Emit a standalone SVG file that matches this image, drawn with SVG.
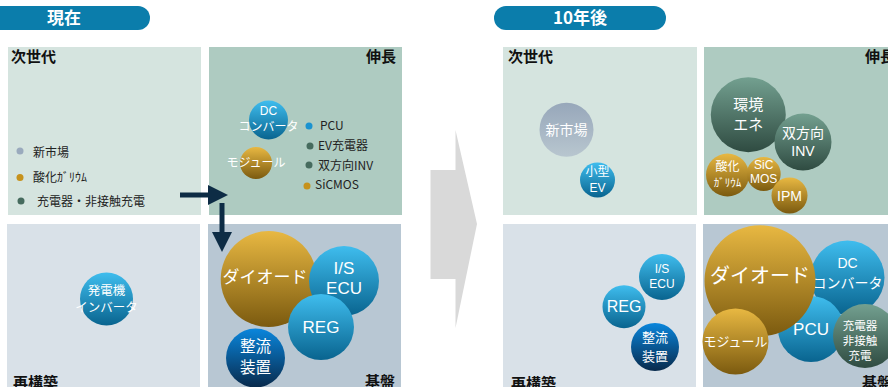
<svg xmlns="http://www.w3.org/2000/svg" width="888" height="387" viewBox="0 0 888 387">
<defs>
<linearGradient id="gBlue" x1="0" y1="0" x2="0" y2="1"><stop offset="0" stop-color="#3fbdee"/><stop offset="1" stop-color="#09648f"/></linearGradient>
<linearGradient id="gGold" x1="0" y1="0" x2="0" y2="1"><stop offset="0" stop-color="#e8b842"/><stop offset="1" stop-color="#7b5a0f"/></linearGradient>
<linearGradient id="gGreen" x1="0" y1="0" x2="0" y2="1"><stop offset="0" stop-color="#73a090"/><stop offset="1" stop-color="#2f4b41"/></linearGradient>
<linearGradient id="gNavy" x1="0" y1="0" x2="0" y2="1"><stop offset="0" stop-color="#0a86dc"/><stop offset="1" stop-color="#082a4c"/></linearGradient>
<linearGradient id="gGray" x1="0" y1="0" x2="0" y2="1"><stop offset="0" stop-color="#97a7ba"/><stop offset="1" stop-color="#b8c6cf"/></linearGradient>
<marker id="ah" markerWidth="4" markerHeight="4" refX="2" refY="2" orient="auto" markerUnits="strokeWidth"><path d="M0,0 L4,2 L0,4 z" fill="#0d2c45"/></marker>
</defs>
<style>
.q{font-family:"Noto Sans CJK JP",sans-serif;font-weight:bold;font-size:15px;fill:#111}
.b{font-family:"Noto Sans CJK JP","Liberation Sans",sans-serif;fill:#fff;text-anchor:middle}
.bl{font-family:"Liberation Sans","Noto Sans CJK JP",sans-serif;fill:#fff;text-anchor:middle}
.lg{font-family:"Noto Sans CJK JP","Liberation Sans",sans-serif;font-size:12px;fill:#222}
.pill{fill:#0b7dab}
.pt{font-family:"Noto Sans CJK JP",sans-serif;font-weight:bold;font-size:17px;fill:#fff;text-anchor:middle}
</style>
<rect width="888" height="387" fill="#fff"/>

<!-- headers -->
<g id="hdr-now"><path class="pill" d="M0,6 H138 A12,12 0 0 1 138,30 H0 z"/><text class="pt" x="64" y="24">現在</text></g>
<g id="hdr-10y"><rect class="pill" x="494" y="6" width="172" height="24" rx="12"/><text class="pt" x="580" y="24">10年後</text></g>

<!-- big gray arrow -->
<g id="transition"><path d="M430.5,170 H455.5 V130 L477,224 L455.5,328 V279 H430.5 z" fill="#d9d9d9"/></g>

<!-- left quadrants -->
<g id="L-next"><rect x="8" y="47" width="193" height="168" fill="#d5e4df"/><text class="q" x="11" y="62">次世代</text></g>
<g id="L-grow"><rect x="209" y="47" width="193" height="168" fill="#aecbc1"/><text class="q" x="396" y="62" text-anchor="end">伸長</text></g>
<g id="L-rebuild"><rect x="7" y="224" width="193" height="163" fill="#d9e1e8"/><text class="q" x="13" y="388">再構築</text></g>
<g id="L-base"><rect x="208" y="224" width="193" height="163" fill="#b8c7d3"/><text class="q" x="395" y="387" text-anchor="end">基盤</text></g>

<!-- right quadrants -->
<g id="R-next"><rect x="503" y="47" width="194" height="168" fill="#d5e4df"/><text class="q" x="508" y="62">次世代</text></g>
<g id="R-grow"><rect x="704" y="47" width="184" height="168" fill="#aecbc1"/><text class="q" x="865" y="62">伸長</text></g>
<g id="R-rebuild"><rect x="503" y="224" width="193" height="163" fill="#d9e1e8"/><text class="q" x="511" y="389">再構築</text></g>
<g id="R-base"><rect x="703" y="224" width="185" height="163" fill="#b8c7d3"/><text class="q" x="862" y="388">基盤</text></g>

<!-- left legend -->
<g id="legend-left">
<circle cx="20" cy="151" r="3.5" fill="#9aaabd"/><text class="lg" x="33" y="157">新市場</text>
<circle cx="20" cy="177.5" r="3.5" fill="#c6921c"/><text class="lg" x="33" y="182">酸化ｶﾞﾘｳﾑ</text>
<circle cx="21" cy="201" r="3.5" fill="#466b5e"/><text class="lg" x="37" y="206">充電器・非接触充電</text>
</g>
<g id="legend-grow">
<circle cx="309" cy="126" r="3.5" fill="#1a93d0"/><text class="lg" x="320" y="130">PCU</text>
<circle cx="310" cy="146" r="3.5" fill="#466b5e"/><text class="lg" x="318" y="150">EV充電器</text>
<circle cx="309" cy="165" r="3.5" fill="#466b5e"/><text class="lg" x="318" y="170">双方向INV</text>
<circle cx="307" cy="186" r="3.5" fill="#c6921c"/><text class="lg" x="315" y="189">SiCMOS</text>
</g>

<!-- left bubbles -->
<g id="L-dc"><circle cx="268.5" cy="120" r="19.5" fill="url(#gBlue)"/><text class="bl" font-size="12" x="268.5" y="115">DC</text><text class="b" font-size="12" x="268.5" y="131">コンバータ</text></g>
<g id="L-mod"><circle cx="256" cy="163" r="16" fill="url(#gGold)"/><text class="b" font-size="12" x="256" y="167">モジュール</text></g>
<g id="L-geninv"><circle cx="106.5" cy="299" r="26.5" fill="url(#gBlue)"/><text class="b" font-size="12.5" x="106.5" y="295">発電機</text><text class="b" font-size="12.5" x="106.5" y="312">インバータ</text></g>
<g id="L-diode"><circle cx="268.7" cy="279" r="48" fill="url(#gGold)"/><text class="b" font-size="17" x="265" y="283">ダイオード</text></g>
<g id="L-isecu"><circle cx="344" cy="281" r="35" fill="url(#gBlue)"/><text class="bl" font-size="17" x="344" y="274">I/S</text><text class="bl" font-size="17" x="344" y="294">ECU</text></g>
<g id="L-reg"><circle cx="321" cy="327" r="33" fill="url(#gBlue)"/><text class="bl" font-size="17" x="321" y="333">REG</text></g>
<g id="L-rect"><circle cx="255.5" cy="358" r="29.5" fill="url(#gNavy)"/><text class="b" font-size="15.5" x="255.5" y="352">整流</text><text class="b" font-size="15.5" x="255.5" y="373">装置</text></g>

<!-- right bubbles: next gen -->
<g id="R-newmkt"><circle cx="566.5" cy="129.7" r="27" fill="url(#gGray)"/><text class="b" font-size="14" x="566.5" y="135">新市場</text></g>
<g id="R-smallev"><circle cx="597.5" cy="180" r="17.5" fill="url(#gBlue)"/><text class="b" font-size="12" x="597.5" y="176">小型</text><text class="bl" font-size="12" x="597.5" y="192">EV</text></g>
<!-- growth -->
<g id="R-env"><circle cx="748.3" cy="114.7" r="37.5" fill="url(#gGreen)"/><text class="b" font-size="15" x="748.3" y="110">環境</text><text class="b" font-size="15" x="748.3" y="130">エネ</text></g>
<g id="R-biinv"><circle cx="803" cy="142" r="28.5" fill="url(#gGreen)"/><text class="b" font-size="14" x="803" y="138">双方向</text><text class="bl" font-size="14" x="803" y="156">INV</text></g>
<g id="R-gao"><circle cx="727.5" cy="175" r="21.5" fill="url(#gGold)"/><text class="b" font-size="12" x="727.5" y="171">酸化</text><text class="b" font-size="11" x="727.5" y="187">ｶﾞﾘｳﾑ</text></g>
<g id="R-sic"><circle cx="763.7" cy="174" r="17" fill="url(#gGold)"/><text class="bl" font-size="12" x="763.7" y="169">SiC</text><text class="bl" font-size="12" x="763.7" y="183">MOS</text></g>
<g id="R-ipm"><circle cx="789.5" cy="195.5" r="18" fill="url(#gGold)"/><text class="bl" font-size="14" x="789.5" y="201">IPM</text></g>
<!-- rebuild -->
<g id="R-isecu"><circle cx="662" cy="277" r="23" fill="url(#gBlue)"/><text class="bl" font-size="12" x="662" y="273">I/S</text><text class="bl" font-size="12" x="662" y="288">ECU</text></g>
<g id="R-reg"><circle cx="624" cy="306.7" r="21.5" fill="url(#gBlue)"/><text class="bl" font-size="16" x="624" y="312">REG</text></g>
<g id="R-rect"><circle cx="655" cy="347" r="24" fill="url(#gNavy)"/><text class="b" font-size="13" x="655" y="342">整流</text><text class="b" font-size="13" x="655" y="361">装置</text></g>
<!-- base -->
<g id="R-dc"><circle cx="847.5" cy="277.5" r="37" fill="url(#gBlue)"/><text class="bl" font-size="14" x="847.5" y="268">DC</text><text class="b" font-size="14" x="847.5" y="288">コンバータ</text></g>
<g id="R-pcu"><circle cx="811" cy="329" r="33" fill="url(#gBlue)"/><text class="bl" font-size="17" x="811" y="335">PCU</text></g>
<g id="R-charger"><circle cx="865" cy="336" r="32" fill="url(#gGreen)"/><text class="b" font-size="11.5" x="860" y="330">充電器</text><text class="b" font-size="11.5" x="860" y="345">非接触</text><text class="b" font-size="11.5" x="860" y="360">充電</text></g>
<g id="R-diode"><circle cx="760" cy="280.8" r="55.5" fill="url(#gGold)"/><text class="b" font-size="20" x="760" y="283">ダイオード</text></g>
<g id="R-mod"><circle cx="735.5" cy="341.5" r="33" fill="url(#gGold)"/><text class="b" font-size="13" x="735.5" y="346">モジュール</text></g>

<!-- connectors -->
<g id="connectors" stroke="#0d2c45" stroke-width="5" fill="none">
<line x1="180" y1="195" x2="218" y2="195" marker-end="url(#ah)"/>
<line x1="222" y1="203" x2="222" y2="242" marker-end="url(#ah)"/>
</g>
</svg>
